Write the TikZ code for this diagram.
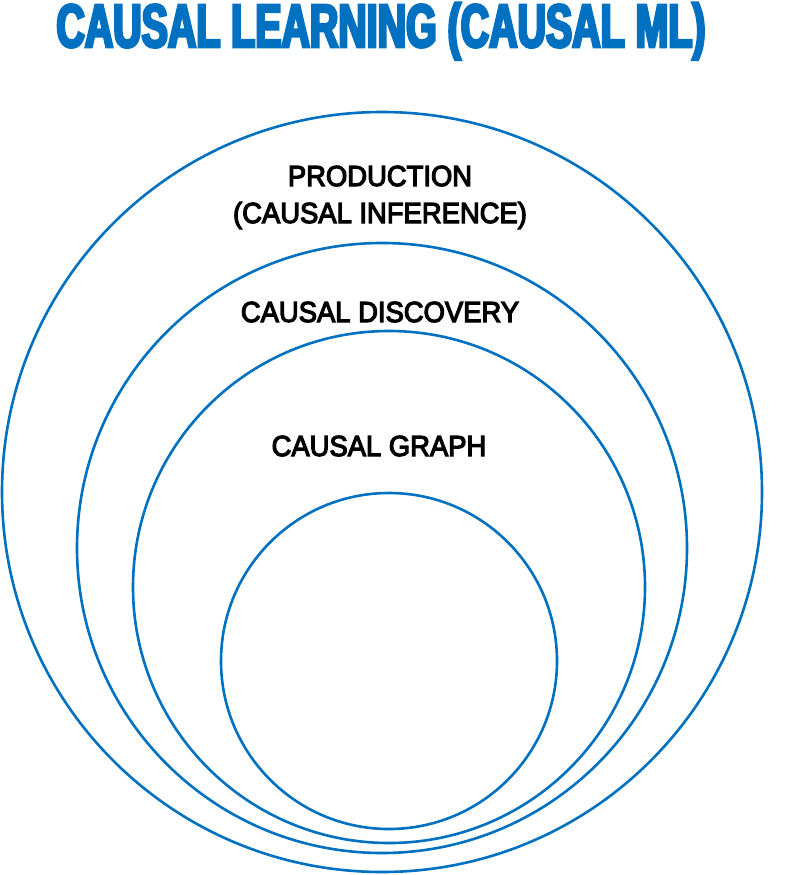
\documentclass[tikz,border=0pt]{standalone}
\usepackage{fontspec}
\setmainfont{Liberation Sans}
\newfontfamily\labelfont{Liberation Sans}[FakeStretch=0.945,FakeBold=4]
\newfontfamily\titlefont{Liberation Sans Bold}[FakeStretch=0.645,FakeBold=4.5]
\definecolor{causalblue}{HTML}{0070C0}
\begin{document}
\begin{tikzpicture}[x=1pt,y=-1pt,
  ring/.style={circle,draw=causalblue,line width=2.6pt,inner sep=0pt,minimum size=#1},
  lbl/.style={anchor=base,inner sep=0pt,font=\labelfont\fontsize{29}{34}\selectfont,text=black}]
  \useasboundingbox (0,0) rectangle (805,875);
  \node[anchor=base,inner sep=0pt,text=causalblue,font=\titlefont\fontsize{61}{61}\selectfont] (title) at (381,47) {CAUSAL LEARNING (CAUSAL ML)};
  \node[ring=760pt] (outer) at (382,492) {};
  \node[ring=610pt] (disc) at (382,548) {};
  \node[ring=512pt] (graph) at (389,587) {};
  \node[ring=336pt] (inner) at (389,661) {};
  \node[lbl] (prodA) at (380,186) {PRODUCTION};
  \node[lbl] (prodB) at (380,223) {(CAUSAL INFERENCE)};
  \node[lbl] (discl) at (380,322) {CAUSAL DISCOVERY};
  \node[lbl] (graphl) at (379,456) {CAUSAL GRAPH};
\end{tikzpicture}
\end{document}
